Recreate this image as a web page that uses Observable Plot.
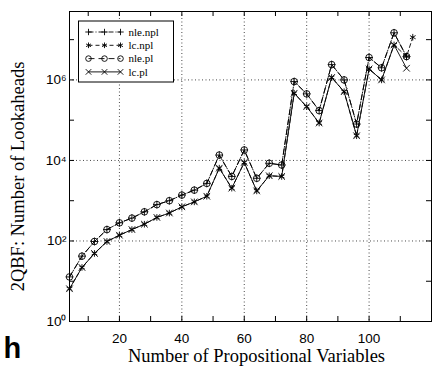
<!DOCTYPE html>
<html>
<head>
<meta charset="utf-8">
<script src="https://cdn.jsdelivr.net/npm/d3@7"></script>
<script src="https://cdn.jsdelivr.net/npm/@observablehq/plot@0.6"></script>
<style>
  html, body { margin: 0; padding: 0; background: #fff; }
</style>
</head>
<body>
<div id="chart"></div>
<script>
// ---- data ----
const vars = [4, 8, 12, 16, 20, 24, 28, 32, 36, 40, 44, 48, 52, 56, 60, 64, 68, 72, 76, 80, 84, 88, 92, 96, 100, 104, 108, 112];
const nleNpl = [12.8, 42, 97, 192, 282, 370, 530, 800, 1000, 1380, 1830, 2690, 13600, 4000, 18200, 3600, 8500, 7700, 910000, 450000, 173000, 2.4e6, 1.0e6, 80000, 3.6e6, 2.0e6, 1.48e7, 3.8e6];
const nlePl  = [12.8, 42, 97, 192, 282, 370, 530, 800, 1000, 1380, 1830, 2690, 13600, 4000, 18200, 3600, 8500, 7700, 910000, 450000, 173000, 2.4e6, 1.0e6, 80000, 3.6e6, 2.0e6, 1.48e7, 3.8e6];
const lcPl   = [6.5, 22, 49, 97, 139, 192, 261, 384, 494, 705, 935, 1290, 6440, 2050, 8900, 1750, 4170, 4000, 466000, 217000, 85000, 1.15e6, 510000, 41000, 1.87e6, 1.0e6, 7.4e6, 1.95e6];
const lcNplVars = [4, 8, 12, 16, 20, 24, 28, 32, 36, 40, 44, 48, 52, 56, 60, 64, 68, 72, 76, 80, 84, 88, 92, 96, 100, 104, 108, 112, 114];
const lcNpl  = [6.5, 22, 49, 97, 139, 192, 261, 384, 494, 705, 935, 1290, 6440, 2050, 8900, 1750, 4170, 4000, 466000, 217000, 85000, 1.15e6, 510000, 41000, 1.87e6, 1.0e6, 7.4e6, 3.8e6, 1.15e7];

const seriesNames = ["nle.npl", "lc.npl", "nle.pl", "lc.pl"];
const seriesSymbols = ["plus", "asterisk", "circle", "times"];
const seriesSizes = [2.6, 3.1, 3.3, 3.1];
const seriesDashes = ["5,2,1,2", "4,3", "6,4", null];

const xTickLabels = [20, 40, 60, 80, 100];
const xMinorTicks = [10, 20, 30, 40, 50, 60, 70, 80, 90, 100, 110];
const yTickLabels = [1, 100, 1e4, 1e6];
const yMinorTicks = [10, 100, 1e3, 1e4, 1e5, 1e6, 1e7];

const xTitle = "Number of Propositional Variables";
const yTitle = "2QBF: Number of Lookaheads";
const panelLabel = "h";

// build tables
const mk = (name, xs, ys) => xs.map((x, i) => ({series: name, x, y: ys[i]}));
const data = [
  mk("nle.npl", vars, nleNpl),
  mk("lc.npl", lcNplVars, lcNpl),
  mk("nle.pl", vars, nlePl),
  mk("lc.pl", vars, lcPl)
];

const sup = {"0":"⁰","1":"¹","2":"²","3":"³","4":"⁴","5":"⁵","6":"⁶","7":"⁷","8":"⁸","9":"⁹"};
const fmtPow = d => "10" + String(Math.round(Math.log10(d))).split("").map(c => sup[c]).join("");

const W = 435, H = 366;
const mL = 69, mR = 4, mT = 11, mB = 45;
const fw = W - mL - mR, fh = H - mT - mB;
const tickLen = 5;

const marks = [
  Plot.gridX(xTickLabels, {stroke: "#000", strokeOpacity: 0.9, strokeDasharray: "1,2.5", strokeWidth: 0.8}),
  Plot.gridY(yTickLabels.filter(d => d > 1), {stroke: "#000", strokeOpacity: 0.9, strokeDasharray: "1,2.5", strokeWidth: 0.8}),
  // inward ticks
  Plot.tickX(xMinorTicks, {x: d => d, insetTop: fh - tickLen, stroke: "#000"}),
  Plot.tickX(xMinorTicks, {x: d => d, insetBottom: fh - tickLen, stroke: "#000"}),
  Plot.tickY(yMinorTicks, {y: d => d, insetRight: fw - tickLen, stroke: "#000"}),
  Plot.tickY(yMinorTicks, {y: d => d, insetLeft: fw - tickLen, stroke: "#000"}),
  Plot.axisX(xTickLabels, {tickSize: 0, tickPadding: 12, label: null, fontSize: 13.5, fontFamily: "Liberation Sans"}),
  Plot.axisY(yTickLabels, {tickSize: 0, tickPadding: 3, label: null, tickFormat: fmtPow, fontSize: 13.5, fontFamily: "Liberation Sans"}),
];

data.forEach((d, i) => {
  marks.push(Plot.line(d, {x: "x", y: "y", stroke: "#000", strokeWidth: 0.9, strokeDasharray: seriesDashes[i]}));
});
data.forEach((d, i) => {
  marks.push(Plot.dot(d, {x: "x", y: "y", symbol: () => seriesSymbols[i], r: seriesSizes[i], stroke: "#000", strokeWidth: 0.9, fill: "none"}));
});

marks.push(
  Plot.frame({stroke: "#000", strokeWidth: 1}),
  Plot.text([xTitle], {frameAnchor: "bottom", textAnchor: "middle", lineAnchor: "middle", dx: 6, dy: 35, fontFamily: "Liberation Serif", fontSize: 18.5, fill: "#000"}),
  Plot.text([yTitle], {frameAnchor: "left", textAnchor: "middle", lineAnchor: "middle", rotate: -90, dx: -51, dy: 10, fontFamily: "Liberation Serif", fontSize: 18.5, fill: "#000"}),
  Plot.text([panelLabel], {frameAnchor: "bottom-left", textAnchor: "start", lineAnchor: "middle", dx: -66, dy: 27, fontFamily: "Liberation Sans", fontWeight: "bold", fontSize: 29, fill: "#000"})
);

const chart = Plot.plot({
  width: W, height: H,
  marginLeft: mL, marginRight: mR, marginTop: mT, marginBottom: mB,
  x: {type: "linear", domain: [4, 120]},
  y: {type: "log", domain: [1, 5e7]},
  style: {background: "#fff", color: "#000", fontFamily: "Liberation Sans"},
  marks
});

// legend inside the frame (upper-left)
const svg = d3.select(chart);
const lg = svg.append("g").attr("transform", "translate(78.5,21)").attr("text-anchor", "start");
lg.append("rect").attr("width", 95).attr("height", 61).attr("fill", "#fff").attr("stroke", "#000").attr("stroke-width", 1);
const symGen = {plus: d3.symbolPlus, asterisk: d3.symbolAsterisk, circle: d3.symbolCircle, times: d3.symbolTimes};
seriesNames.forEach((name, i) => {
  const yy = 11 + i * 13.3;
  const row = lg.append("g").attr("transform", `translate(0,${yy})`);
  row.append("line").attr("x1", 10).attr("x2", 42).attr("y1", 0).attr("y2", 0)
    .attr("stroke", "#000").attr("stroke-width", 0.9).attr("stroke-dasharray", seriesDashes[i]);
  [10, 26, 42].forEach(px => {
    const r = seriesSizes[i] * 0.85;
    row.append("path").attr("transform", `translate(${px},0)`)
      .attr("d", d3.symbol(symGen[seriesSymbols[i]], r * r * Math.PI)())
      .attr("fill", "none").attr("stroke", "#000").attr("stroke-width", 0.9);
  });
  row.append("text").attr("x", 50).attr("y", 0).attr("dy", "0.35em").attr("text-anchor", "start")
    .attr("font-family", "Liberation Serif").attr("font-size", 11).attr("fill", "#000").text(name);
});

document.getElementById("chart").appendChild(chart);
</script>
</body>
</html>
